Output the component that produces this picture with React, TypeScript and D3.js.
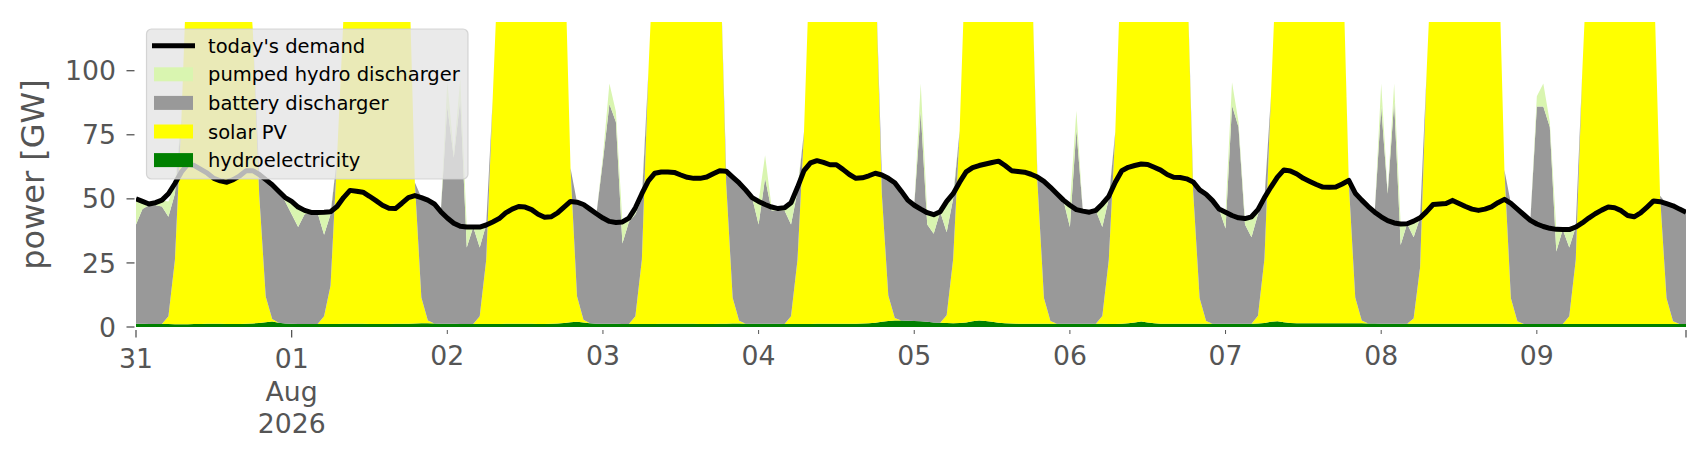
import * as d3 from "d3";

// hourly, 31 Jul 2026 00:00 .. 09 Aug 2026 23:00 (GW)
const start = new Date(Date.UTC(2026, 6, 31));
const hours = d3.utcHour.range(start, d3.utcDay.offset(start, 10));

const demand = [
  50, 49, 48, 48.5, 49.5, 52, 56, 60.5, 63.5, 63, 61.5, 60, 58, 57, 56.5, 57.5, 59, 61, 61, 59.5, 57.5, 55.5, 53, 50.5,
  49, 46.8, 45.5, 44.7, 44.7, 44.8, 45, 47, 50.5, 53.3, 53, 52.6, 51, 49.3, 47.5, 46.3, 46.2, 48.3, 50.5, 51.3, 50.5, 49.5, 48, 45,
  42.5, 40.5, 39.3, 39, 39, 39, 39.8, 41, 42.3, 44.5, 46, 47, 46.8, 45.8, 44, 42.8, 43, 44.5, 46.8, 49, 48.7, 47.8, 46, 44.2,
  42.5, 41.2, 40.8, 41, 42.5, 46.5, 52, 57, 60, 60.5, 60.5, 60.3, 59.3, 58.4, 58, 58, 58.5, 59.8, 61, 60.8, 58.5, 56.2, 53.5, 50.5,
  49, 47.8, 46.8, 46.2, 46.5, 48.5, 54.5, 61, 64, 64.9, 64.2, 63.3, 63.3, 61.5, 59.5, 58, 58.2, 59, 60, 59.3, 58, 56.3, 53, 49.5,
  47.5, 46, 44.6, 43.8, 45, 49, 52, 56.5, 60.5, 62.2, 63, 63.6, 64.2, 64.7, 63, 61, 60.7, 60.4, 59.6, 58.5, 56.8, 54.5, 52, 49.5,
  47.5, 45.8, 45.2, 44.8, 45.5, 48, 51, 56.5, 61, 62.3, 63, 63.6, 63.4, 62.3, 61.2, 59.5, 58.4, 58.3, 57.8, 56.6, 53.5, 51.8, 49.3, 46,
  44.8, 43.5, 42.6, 42.3, 43, 45.8, 50.5, 54.6, 58.5, 61.3, 60.9, 59.7, 58, 56.8, 55.6, 54.6, 54.5, 54.6, 55.8, 57.2, 52.2, 49.5, 47, 44.8,
  43, 41.5, 40.6, 40.2, 40.3, 41.3, 42.6, 45, 47.8, 48, 48.2, 49.4, 48.2, 47, 46, 45.5, 46, 46.9, 48.5, 49.8, 48.2, 46, 43.8, 41.6,
  40.2, 39.2, 38.5, 38.1, 38, 38, 39, 40.6, 42.5, 44.2, 45.6, 46.8, 46.5, 45.4, 43.5, 43, 44.5, 46.8, 49.2, 48.9, 48.1, 47.3, 46, 44.8,
];

const hydroelectricity = [
  1.3, 1.3, 1.2, 1.2, 1.2, 1.2, 1.1, 1.1, 1.1, 1.2, 1.2, 1.3, 1.3, 1.3, 1.2, 1.2, 1.2, 1.3, 1.4, 1.6, 1.9, 2.1, 1.7, 1.4,
  1.3, 1.2, 1.2, 1.2, 1.2, 1.2, 1.2, 1.2, 1.3, 1.3, 1.3, 1.3, 1.2, 1.2, 1.2, 1.2, 1.3, 1.3, 1.3, 1.4, 1.5, 1.5, 1.4, 1.3,
  1.3, 1.3, 1.2, 1.2, 1.2, 1.2, 1.2, 1.2, 1.2, 1.3, 1.3, 1.3, 1.3, 1.3, 1.2, 1.2, 1.3, 1.4, 1.6, 1.9, 2.0, 1.8, 1.5, 1.3,
  1.3, 1.3, 1.3, 1.2, 1.2, 1.2, 1.2, 1.2, 1.2, 1.3, 1.3, 1.3, 1.3, 1.3, 1.3, 1.2, 1.2, 1.2, 1.3, 1.3, 1.4, 1.4, 1.3, 1.3,
  1.3, 1.3, 1.3, 1.3, 1.2, 1.2, 1.2, 1.2, 1.2, 1.3, 1.3, 1.3, 1.3, 1.3, 1.3, 1.3, 1.4, 1.5, 1.7, 2.0, 2.3, 2.5, 2.5, 2.4,
  2.3, 2.2, 2.0, 1.8, 1.7, 1.6, 1.5, 1.6, 1.8, 2.2, 2.5, 2.3, 2.0, 1.7, 1.5, 1.4, 1.3, 1.3, 1.3, 1.3, 1.3, 1.3, 1.3, 1.3,
  1.3, 1.3, 1.3, 1.3, 1.3, 1.3, 1.2, 1.2, 1.3, 1.5, 1.8, 2.1, 1.8, 1.5, 1.3, 1.3, 1.3, 1.3, 1.3, 1.3, 1.3, 1.3, 1.3, 1.3,
  1.3, 1.3, 1.3, 1.3, 1.3, 1.4, 1.6, 2.0, 2.2, 1.9, 1.6, 1.5, 1.5, 1.5, 1.5, 1.5, 1.5, 1.5, 1.5, 1.5, 1.5, 1.5, 1.4, 1.4,
  1.3, 1.3, 1.3, 1.3, 1.3, 1.3, 1.3, 1.3, 1.3, 1.3, 1.3, 1.3, 1.3, 1.3, 1.3, 1.3, 1.3, 1.3, 1.3, 1.3, 1.2, 1.2, 1.2, 1.2,
  1.2, 1.2, 1.2, 1.2, 1.2, 1.2, 1.2, 1.2, 1.2, 1.2, 1.2, 1.2, 1.2, 1.2, 1.2, 1.2, 1.2, 1.2, 1.2, 1.2, 1.2, 1.2, 1.2, 1.2,
];

const solarPV = [
  0, 0, 0, 0, 0, 3, 25, 80, 150, 172, 188, 196, 199, 197, 190, 178, 163, 150, 115, 50, 10, 1, 0, 0,
  0, 0, 0, 0, 0, 3, 15, 65, 120, 150, 170, 183, 190, 188, 181, 170, 160, 152, 148, 55, 10, 1, 0, 0,
  0, 0, 0, 0, 0, 3, 25, 88, 150, 175, 190, 198, 202, 200, 192, 180, 168, 160, 155, 60, 10, 1, 0, 0,
  0, 0, 0, 0, 0, 3, 25, 98, 155, 180, 195, 203, 206, 204, 196, 184, 170, 158, 150, 55, 10, 1, 0, 0,
  0, 0, 0, 0, 0, 3, 25, 75, 150, 176, 192, 200, 203, 200, 192, 180, 165, 150, 140, 50, 10, 1, 0, 0,
  0, 0, 0, 0, 0, 3, 25, 75, 150, 174, 190, 198, 201, 199, 191, 179, 167, 157, 150, 55, 10, 1, 0, 0,
  0, 0, 0, 0, 0, 3, 25, 75, 150, 175, 191, 199, 202, 200, 192, 180, 167, 155, 145, 52, 10, 1, 0, 0,
  0, 0, 0, 0, 0, 3, 25, 88, 150, 172, 188, 197, 200, 198, 190, 178, 166, 156, 150, 55, 10, 1, 0, 0,
  0, 0, 0, 0, 0, 2, 22, 98, 155, 178, 193, 201, 204, 202, 194, 182, 170, 160, 155, 60, 10, 1, 0, 0,
  0, 0, 0, 0, 0, 3, 25, 98, 155, 180, 195, 203, 206, 203, 195, 183, 170, 158, 140, 50, 10, 1, 0, 0,
];

const batteryDischarger = [
  38.7, 44.7, 46.3, 46.3, 45.8, 38.8, 25.9, 0, 0, 0, 0, 0, 0, 0, 0, 0, 0, 0, 0, 7.9, 45.6, 52.4, 51.3, 47.6,
  42.7, 37.8, 42.8, 43.3, 43.3, 31.8, 27.8, 0, 0, 0, 0, 0, 0, 0, 0, 0, 0, 0, 0, 0, 39, 47, 46.6, 43.7,
  84.7, 64.7, 87.8, 29.8, 37.8, 26.8, 13.8, 0, 0, 0, 0, 0, 0, 0, 0, 0, 0, 0, 0, 0, 36.7, 45, 44.5, 42.9,
  63.7, 85.7, 78.7, 31.4, 39.8, 39.8, 23.8, 0, 0, 0, 0, 0, 0, 0, 0, 0, 0, 0, 0, 4.5, 47.1, 53.8, 52.2, 49.2,
  38.7, 56.7, 44.2, 44.2, 44.3, 35.8, 26.8, 0, 0, 0, 0, 0, 0, 0, 0, 0, 0, 0, 0, 7.3, 45.7, 52.8, 50.5, 47.1,
  45.2, 81.8, 38, 34.6, 43.3, 32.4, 23.5, 0, 0, 0, 0, 0, 0, 0, 0, 0, 0, 0, 0, 2.2, 45.5, 52.2, 50.7, 48.2,
  37.7, 75.7, 43.9, 43.5, 44.2, 34.7, 23.8, 0, 0, 0, 0, 0, 0, 0, 0, 0, 0, 0, 0, 3.3, 42.2, 49.5, 48, 44.7,
  37.1, 85.1, 76.7, 38.7, 33.7, 39.6, 23.4, 0, 0, 0, 0, 0, 0, 0, 0, 0, 0, 0, 0, 0.7, 40.7, 47, 45.6, 43.4,
  84.7, 50.7, 86.7, 30.7, 39, 31.7, 19.3, 0, 0, 0, 0, 0, 0, 0, 0, 0, 0, 0, 0, 0, 37, 43.8, 42.6, 40.4,
  84.8, 84.8, 76.8, 28.3, 36.8, 26.8, 12.8, 0, 0, 0, 0, 0, 0, 0, 0, 0, 0, 0, 0, 0, 36.9, 45.1, 44.8, 43.6,
];

const pumpedHydroDischarger = [
  10, 3, 0.7, 1.1, 2.5, 6, 4, 0, 0, 0, 0, 0, 0, 0, 0, 0, 0, 0, 0, 0, 0, 0, 0, 1.5,
  5, 7.8, 1.5, 0.2, 0.2, 8.8, 1, 0, 0, 0, 0, 0, 0, 0, 0, 0, 0, 0, 0, 0, 0, 0, 0, 0,
  10, 2, 8, 8, 0.2, 8, 0, 0, 0, 0, 0, 0, 0, 0, 0, 0, 0, 0, 0, 0, 0, 0, 0, 0,
  2, 8, 4, 8.4, 1.5, 2.5, 2, 0, 0, 0, 0, 0, 0, 0, 0, 0, 0, 0, 0, 0, 0, 0, 0, 0,
  9, 9, 1.3, 0.7, 1, 8.5, 1.5, 0, 0, 0, 0, 0, 0, 0, 0, 0, 0, 0, 0, 0, 0, 0, 0, 0,
  0, 11, 4.6, 7.4, 0, 12, 2, 0, 0, 0, 0, 0, 0, 0, 0, 0, 0, 0, 0, 0, 0, 0, 0, 0,
  8.5, 7.4, 0, 0, 0, 9, 1, 0, 0, 0, 0, 0, 0, 0, 0, 0, 0, 0, 0, 0, 0, 0, 0, 0,
  6.4, 9.1, 2, 2.3, 8, 1.8, 0.5, 0, 0, 0, 0, 0, 0, 0, 0, 0, 0, 0, 0, 0, 0, 0, 0, 0,
  9, 1, 7, 8.2, 0, 6.3, 0, 0, 0, 0, 0, 0, 0, 0, 0, 0, 0, 0, 0, 0, 0, 0, 0, 0,
  4, 9, 2, 8.6, 0, 7, 0, 0, 0, 0, 0, 0, 0, 0, 0, 0, 0, 0, 0, 0, 0, 0, 0, 0,
];

const stackKeys = ["hydro", "solar", "battery", "pumped"];
const stackColors: Record<string, string> = {
  hydro: "#008000",
  solar: "#ffff00",
  battery: "#999999",
  pumped: "#d9f5b0",
};

const legendItems = [
  { label: "today's demand", key: "demand" },
  { label: "pumped hydro discharger", key: "pumped" },
  { label: "battery discharger", key: "battery" },
  { label: "solar PV", key: "solar" },
  { label: "hydroelectricity", key: "hydro" },
];

const yTicks = [0, 25, 50, 75, 100];
const majorTickDates = [start, d3.utcDay.offset(start, 1), hours[hours.length - 1]];
const majorTickLabels = [["31"], ["01", "Aug", "2026"], []];
const minorTickDates = d3.utcDay.range(d3.utcDay.offset(start, 2), d3.utcDay.offset(start, 10));

const W = 1706;
const H = 460;
const plot = { left: 136, right: 1686, top: 22, bottom: 327 };
const font = "DejaVu Sans, sans-serif";
const axisGray = "#555555";

export default function App() {
  const x = d3
    .scaleUtc()
    .domain([hours[0], hours[hours.length - 1]])
    .range([plot.left, plot.right]);
  const y = d3.scaleLinear().domain([0, 119]).range([plot.bottom, plot.top]);

  const rows = hours.map((t, i) => ({
    t,
    hydro: hydroelectricity[i],
    solar: solarPV[i],
    battery: batteryDischarger[i],
    pumped: pumpedHydroDischarger[i],
  }));
  const stacked = d3.stack<any>().keys(stackKeys)(rows);

  const area = d3
    .area<any>()
    .x((d) => x(d.data.t))
    .y0((d) => y(d[0]))
    .y1((d) => y(d[1]));

  const demandLine = d3
    .line<number>()
    .x((_, i) => x(hours[i]))
    .y((d) => y(d));

  const fmtDay = d3.utcFormat("%d");
  const legendX = 146.5;
  const legendY = 29;
  const rowH = 28.6;

  return (
    <svg
      width={W}
      height={H}
      style={{ position: "absolute", left: 0, top: 0, background: "#fff" }}
      fontFamily={font}
    >
      <defs>
        <clipPath id="plotClip">
          <rect
            x={plot.left}
            y={plot.top}
            width={plot.right - plot.left}
            height={plot.bottom - plot.top}
          />
        </clipPath>
      </defs>

      <g clipPath="url(#plotClip)">
        {stacked.map((s) => (
          <path key={s.key} d={area(s) ?? ""} fill={stackColors[s.key]} stroke="none" />
        ))}
        <path
          d={demandLine(demand) ?? ""}
          fill="none"
          stroke="#000"
          strokeWidth={5}
          strokeLinejoin="round"
        />
      </g>

      {/* y axis */}
      {yTicks.map((t) => (
        <g key={t}>
          <line x1={126.5} x2={134.5} y1={y(t)} y2={y(t)} stroke={axisGray} strokeWidth={1.3} />
          <text
            x={116}
            y={y(t)}
            dy="0.36em"
            textAnchor="end"
            fontSize={26.7}
            fill={axisGray}
          >
            {t}
          </text>
        </g>
      ))}
      <text
        transform={`translate(44,${(plot.top + plot.bottom) / 2}) rotate(-90)`}
        textAnchor="middle"
        fontSize={32}
        fill={axisGray}
      >
        power [GW]
      </text>

      {/* x axis */}
      {majorTickDates.map((d, i) => (
        <g key={"M" + i}>
          <line x1={x(d)} x2={x(d)} y1={330} y2={337.5} stroke={axisGray} strokeWidth={1.3} />
          {majorTickLabels[i].map((s, j) => (
            <text
              key={j}
              x={x(d)}
              y={368 + j * 32.5}
              textAnchor="middle"
              fontSize={26.7}
              fill={axisGray}
            >
              {s}
            </text>
          ))}
        </g>
      ))}
      {minorTickDates.map((d, i) => (
        <g key={"m" + i}>
          <line x1={x(d)} x2={x(d)} y1={330} y2={334} stroke={axisGray} strokeWidth={1} />
          <text x={x(d)} y={364.5} textAnchor="middle" fontSize={26.7} fill={axisGray}>
            {fmtDay(d)}
          </text>
        </g>
      ))}

      {/* legend */}
      <rect
        x={legendX}
        y={legendY}
        width={321.5}
        height={150}
        rx={5}
        fill="#e5e5e5"
        fillOpacity={0.8}
        stroke="#cccccc"
        strokeOpacity={0.8}
        strokeWidth={1.2}
      />
      {legendItems.map((item, i) => {
        const cy = legendY + 16.7 + i * rowH;
        return (
          <g key={item.key}>
            {item.key === "demand" ? (
              <line x1={152} x2={195} y1={cy} y2={cy} stroke="#000" strokeWidth={5} />
            ) : (
              <rect x={154} y={cy - 7} width={39} height={14} fill={stackColors[item.key]} />
            )}
            <text x={208} y={cy} dy="0.36em" fontSize={19.5} fill="#000">
              {item.label}
            </text>
          </g>
        );
      })}
    </svg>
  );
}
